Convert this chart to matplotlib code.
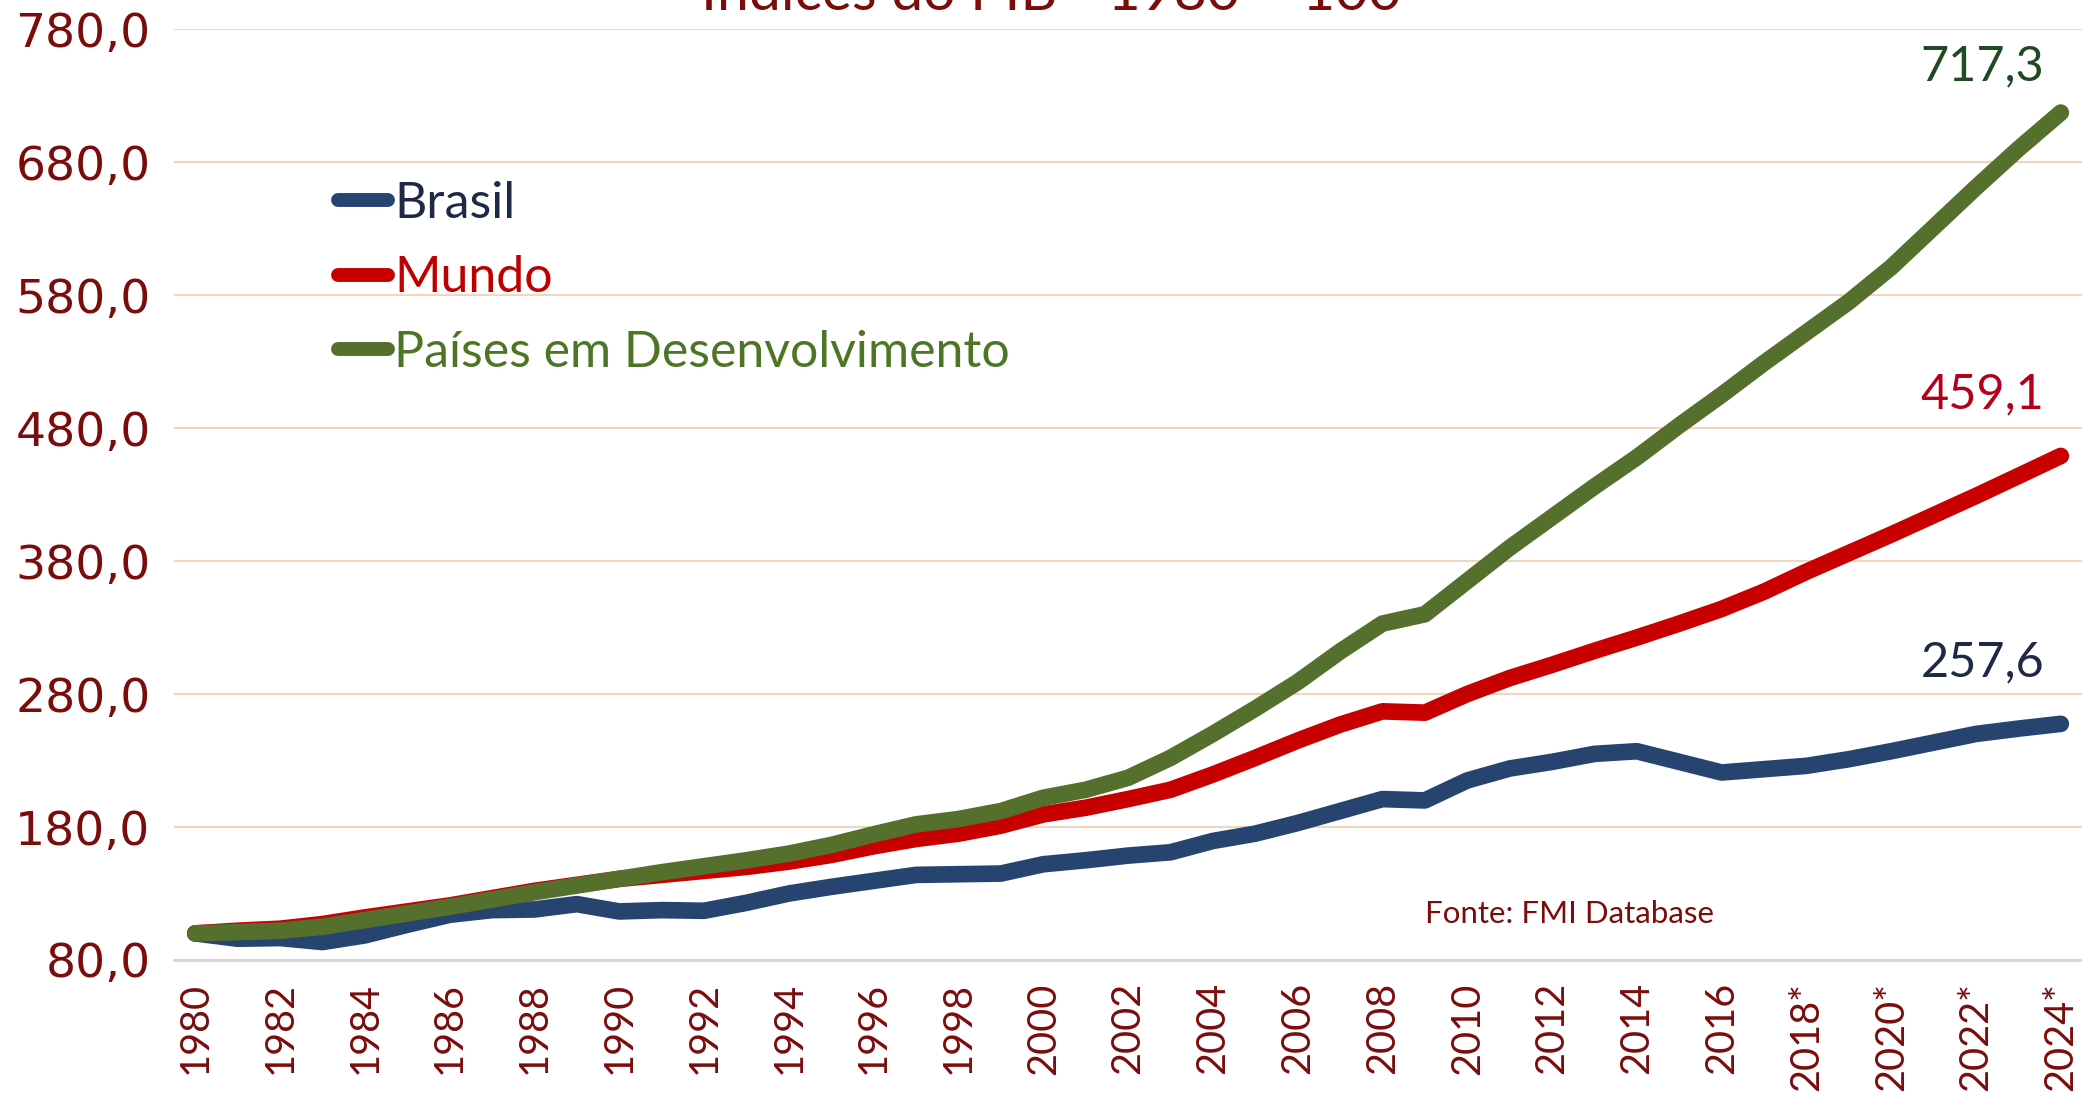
import matplotlib.pyplot as plt
import matplotlib.ticker as ticker

plt.rcParams['font.family'] = 'Lato'

# --- data (indice do PIB, 1980 = 100)
years = list(range(1980, 2025))

brasil = [100, 96, 96.5, 93.5, 98.5, 106.5, 114, 117.5, 118, 122,
          116.5, 117.5, 117, 123, 130, 135, 139.5, 144, 144.5, 145,
          152, 155, 158.5, 161, 169.5, 175, 183, 192, 201, 200,
          215, 224, 229, 235, 237, 229, 221, 223.5, 226, 231,
          237, 243.5, 250, 254, 257.6]

mundo = [100, 102, 103.5, 107, 112, 116.5, 121, 126.5, 132, 136.5,
         141, 144, 147, 150, 154, 159, 165.5, 171, 175, 181,
         189.5, 194.5, 201, 208, 219.5, 232, 245, 257, 267, 266,
         280, 292, 302, 312.5, 322.5, 333, 344, 357, 372, 386,
         400, 414.5, 429, 444, 459.1]

emergentes = [100, 101, 102, 105, 110, 115, 120, 125.5, 131, 136,
              141, 146, 150.5, 155, 160, 166.5, 174.5, 182, 186, 192,
              202, 208, 217, 232, 250, 269, 289, 312, 333, 340,
              365, 390, 413, 436, 458, 482, 505, 529, 552, 575,
              601, 631, 661, 690, 717.3]

tick_labels = ["1980", "1982", "1984", "1986", "1988", "1990", "1992", "1994",
               "1996", "1998", "2000", "2002", "2004", "2006", "2008", "2010",
               "2012", "2014", "2016", "2018*", "2020*", "2022*", "2024*"]

series_names = ["Brasil", "Mundo", "Países em Desenvolvimento"]
end_labels = ["257,6", "459,1", "717,3"]

# --- colours
line_colors = ["#26446F", "#C80000", "#556F2C"]
text_colors = ["#1E2A45", "#C00000", "#4C7524"]
label_colors = ["#1E2A45", "#B5001C", "#1F4A22"]
dark_red = "#7A0C0C"

fig = plt.figure(figsize=(20.82, 11.16), dpi=100)
ax = fig.add_axes([0.0836, 0.1398, 0.9164, 0.834])

x = list(range(len(years)))
lines = []
for data, c, name in zip([brasil, mundo, emergentes], line_colors, series_names):
    ln, = ax.plot(x, data, color=c, lw=12, label=name,
                  solid_capstyle="round", solid_joinstyle="round")
    lines.append(ln)

ax.set_xlim(-0.5, len(years) - 0.5)
ax.set_ylim(80, 780)
ax.set_yticks(range(80, 781, 100))
ax.yaxis.set_major_formatter(
    ticker.FuncFormatter(lambda v, p: f"{v:.1f}".replace(".", ","))
)
ax.set_xticks(x[::2])
ax.set_xticklabels(tick_labels, rotation=90, va="top", ha="center")
for t in ax.get_yticklabels():
    t.set_family("DejaVu Sans")

ax.tick_params(axis="y", length=0, pad=17, labelsize=34, labelcolor=dark_red)
ax.tick_params(axis="x", length=0, pad=16, labelsize=28.5, labelcolor=dark_red)

ax.grid(axis="y", color="#EFD6BE", lw=1.5, zorder=0)
ax.set_axisbelow(True)
for s in ["top", "left", "right"]:
    ax.spines[s].set_visible(False)
ax.spines["bottom"].set_color("#D6D6D6")
ax.spines["bottom"].set_linewidth(2)

# --- legend
leg = ax.legend(
    handles=lines, loc="upper left",
    bbox_to_anchor=(0.1623, 0.838), bbox_transform=fig.transFigure,
    frameon=False, fontsize=36, handlelength=1.0, handletextpad=0.12,
    labelspacing=0.57, borderpad=0, borderaxespad=0,
    labelcolor=text_colors,
)
for h in leg.legend_handles:
    h.set_linewidth(10)

# --- end-of-line values
offsets = [44, 44, 33]
for data, lab, c, dy in zip([brasil, mundo, emergentes], end_labels, label_colors, offsets):
    ax.annotate(
        lab, xy=(x[-1], data[-1]), xytext=(-12, dy), textcoords="offset points",
        ha="right", va="center", fontsize=35, color=c,
    )

ax.text(0.754, 0.181, "Fonte: FMI Database", transform=fig.transFigure,
        ha="center", va="center", fontsize=22.5, color=dark_red)

fig.text(0.505, 0.991, "Índices do PIB - 1980 = 100", ha="center", va="baseline",
         fontsize=41, color=dark_red)

plt.savefig("out.png", dpi=100, facecolor="white")
